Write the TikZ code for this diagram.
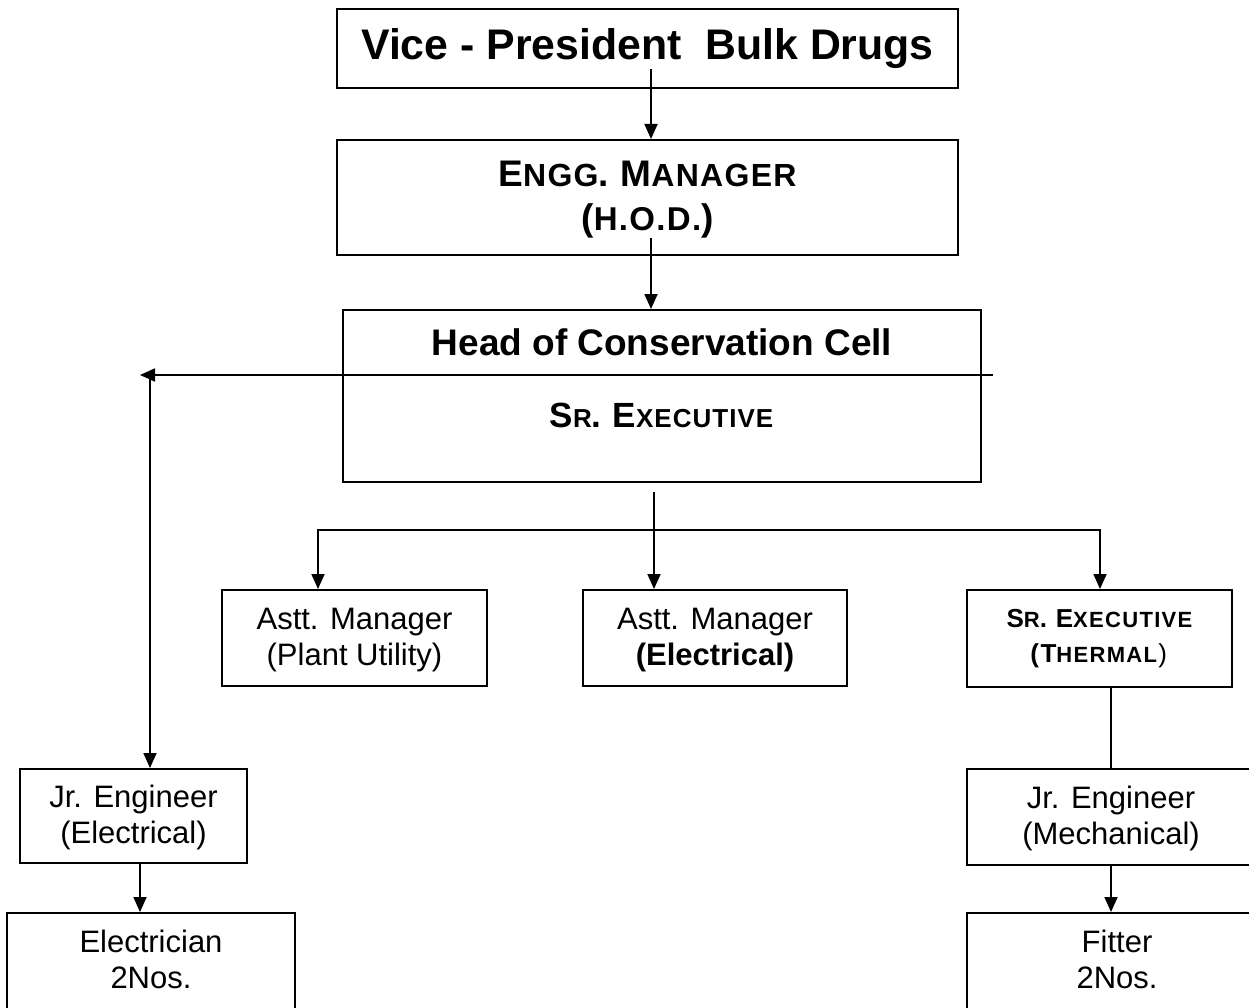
\documentclass[tikz,border=0pt]{standalone}
\usepackage{fontspec}
\setmainfont{Liberation Sans}
\usetikzlibrary{arrows.meta}
\newcommand{\fsz}[2]{{\fontsize{#1}{#1}\selectfont #2}}
\begin{document}
\begin{tikzpicture}[x=1pt,y=-1pt,
  box/.style={draw, line width=2pt, inner sep=0pt, align=center},
  conn/.style={line width=1.8pt},
  arr/.style={conn, -{Triangle[width=13pt,length=15pt]}},
  dblarr/.style={conn, {Triangle[width=13pt,length=15pt]}-{Triangle[width=13pt,length=15pt]}},
  reg/.style={font=\fontsize{31}{36}\selectfont},
  txt/.style={inner sep=0pt, anchor=base},
]
\useasboundingbox (0,0) rectangle (1249,1008);
\fill[white] (0,0) rectangle (1249,1008);
\clip (0,0) rectangle (1249,1008);

% boxes
\node[box, minimum width=621pt, minimum height=79pt, font=\fontsize{42.8}{48}\selectfont\bfseries]
  (vp) at (647.5,48.5) {Vice - President~~Bulk Drugs};
\node[box, minimum width=621pt, minimum height=115pt, font=\fontsize{37}{44}\selectfont\bfseries\addfontfeature{LetterSpace=4}]
  (engg) at (647.5,197.5) {\rule{0pt}{30pt}E\fsz{32}{NGG}. M\fsz{32}{ANAGER}\\(\fsz{33}{H.O.D.})};
\node[box, minimum width=638pt, minimum height=172pt] (hoc) at (662,396) {};
\node[txt, font=\fontsize{37}{42}\selectfont\bfseries] (hoct) at (662,355) {Head of Conservation Cell};
\node[txt, font=\fontsize{35}{40}\selectfont\bfseries\addfontfeature{LetterSpace=4}] (hocs) at (661.5,427) {S\fsz{26}{R}. E\fsz{26}{XECUTIVE}};

\node[box, reg, minimum width=265pt, minimum height=96pt] (apu) at (354.5,638) {\rule{0pt}{26pt}Astt. Manager\\(Plant Utility)};
\node[box, reg, minimum width=264pt, minimum height=96pt] (ame) at (715,638) {\rule{0pt}{26pt}Astt. Manager\\\textbf{(Electrical)}};
\node[box, minimum width=265pt, minimum height=97pt, font=\fontsize{26}{35}\selectfont\bfseries\addfontfeature{LetterSpace=6}]
  (sth) at (1099.5,638.5) {S\fsz{22}{R}. E\fsz{22}{XECUTIVE}\\(T\fsz{22}{HERMAL}\textmd{)}};

\node[box, reg, minimum width=227pt, minimum height=94pt] (jre) at (133.5,816) {\rule{0pt}{26pt}Jr. Engineer\\(Electrical)};
\node[box, reg, minimum width=288pt, minimum height=96pt] (jrm) at (1111,817) {\rule{0pt}{26pt}Jr. Engineer\\(Mechanical)};

\node[box, minimum width=288pt, minimum height=147pt] (ele) at (151,986.5) {};
\node[txt, reg, align=center] (elet) at (151,988) {Electrician\\2Nos.};
\node[box, minimum width=288pt, minimum height=147pt] (fit) at (1111,986.5) {};
\node[txt, reg, align=center] (fitt) at (1117,988) {Fitter\\2Nos.};

% helper coordinates
\coordinate (x1) at (651,0);
\coordinate (hr) at (993,375);
\coordinate (hl) at (140,375);
\coordinate (hv) at (150,375);
\coordinate (s1) at (654,492);
\coordinate (bl) at (318,530);
\coordinate (br) at (1100,530);
\coordinate (tx) at (1111,0);
\coordinate (ex) at (140,0);

% connectors
\draw[arr] ([yshift=20pt]vp.south -| x1) -- (engg.north -| x1);
\draw[arr] ([yshift=18pt]engg.south -| x1) -- (hoc.north -| x1);
\draw[arr] (hr) -- (hl);
\draw[arr] (hv) -- (jre.north -| hv);
\draw[arr] (s1) -- (ame.north -| s1);
\draw[dblarr] (apu.north -| bl) -- (bl) -- (br) -- (sth.north -| br);
\draw[conn] (sth.south -| tx) -- (jrm.north -| tx);
\draw[arr] (jrm.south -| tx) -- (fit.north -| tx);
\draw[arr] (jre.south -| ex) -- (ele.north -| ex);
\end{tikzpicture}
\end{document}
